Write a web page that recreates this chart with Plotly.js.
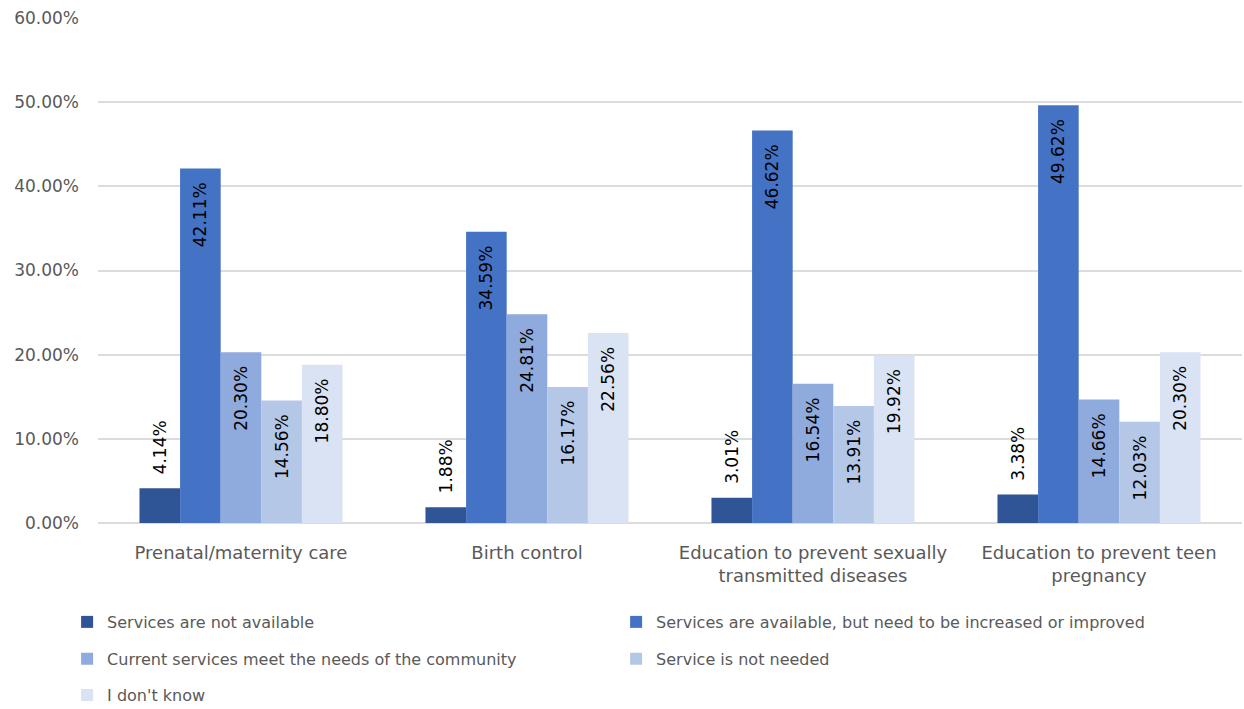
<!DOCTYPE html>
<html>
<head>
<meta charset="utf-8">
<script src="https://cdn.plot.ly/plotly-3.0.1.min.js"></script>
<style>html,body{margin:0;padding:0;background:#fff;}#chart{width:1244px;height:709px;}</style>
</head>
<body>
<div id="chart"></div>
<script>
const categories = ["Prenatal/maternity care", "Birth control", "Education to prevent sexually<br>transmitted diseases", "Education to prevent teen<br>pregnancy"];
const seriesNames = ["Services are not available", "Services are available, but need to be increased or improved", "Current services meet the needs of the community", "Service is not needed", "I don't know"];
const notAvailable = [4.14, 1.88, 3.01, 3.38];
const needIncrease = [42.11, 34.59, 46.62, 49.62];
const meetNeeds = [20.30, 24.81, 16.54, 14.66];
const notNeeded = [14.56, 16.17, 13.91, 12.03];
const dontKnow = [18.80, 22.56, 19.92, 20.30];
const yTicks = [0, 10, 20, 30, 40, 50, 60];
const yTickText = ["0.00%", "10.00%", "20.00%", "30.00%", "40.00%", "50.00%", "60.00%"];

const colors = ["#2F5597", "#4472C4", "#8FAADC", "#B4C7E7", "#DAE3F3"];
const legendIds = ["legend", "legend", "legend2", "legend2", "legend3"];
const FONT = "'DejaVu Sans', 'Open Sans', sans-serif";
const allSeries = [notAvailable, needIncrease, meetNeeds, notNeeded, dontKnow];
const NB = "\u00a0";

const traces = allSeries.map((vals, i) => ({
  type: "bar",
  name: seriesNames[i],
  x: categories,
  y: vals,
  marker: {color: colors[i]},
  texttemplate: vals.map(v => v < 8 ? NB + NB + "%{y:.2f}%" : "%{y:.2f}%" + NB + NB),
  textposition: vals.map(v => v < 8 ? "outside" : "inside"),
  textangle: -90,
  insidetextanchor: "end",
  constraintext: "none",
  textfont: {family: FONT, size: 17, color: "#000"},
  insidetextfont: {family: FONT, size: 17, color: "#000"},
  outsidetextfont: {family: FONT, size: 17, color: "#000"},
  cliponaxis: false,
  legend: legendIds[i],
  hoverinfo: "none"
}));

const legendBase = {
  orientation: "h",
  xanchor: "left",
  yanchor: "middle",
  x: -0.027,
  entrywidth: 504,
  entrywidthmode: "pixels",
  font: {family: FONT, size: 16, color: "#595959"},
  itemwidth: 30,
  bgcolor: "rgba(0,0,0,0)",
  traceorder: "normal"
};

const layout = {
  width: 1244,
  height: 709,
  margin: {l: 98, r: 2, t: 18, b: 186, autoexpand: false},
  paper_bgcolor: "#fff",
  plot_bgcolor: "#fff",
  barmode: "group",
  bargap: 0.29,
  bargroupgap: 0,
  font: {family: FONT, size: 17, color: "#595959"},
  showlegend: true,
  xaxis: {
    type: "category",
    showgrid: false,
    zeroline: false,
    showline: false,
    ticks: "",
    automargin: false,
    tickfont: {family: FONT, size: 18, color: "#595959"},
    ticklabelstandoff: 17
  },
  yaxis: {
    range: [0, 60],
    tickvals: yTicks,
    ticktext: yTickText,
    showgrid: true,
    gridcolor: "#DCDCDC",
    gridwidth: 2,
    zeroline: true,
    zerolinecolor: "#DCDCDC",
    zerolinewidth: 2,
    showline: false,
    ticks: "",
    automargin: false,
    ticklabelstandoff: 18,
    tickfont: {family: FONT, size: 17, color: "#595959"}
  },
  legend: Object.assign({}, legendBase, {y: -0.196}),
  legend2: Object.assign({}, legendBase, {y: -0.269}),
  legend3: Object.assign({}, legendBase, {y: -0.341})
};

Plotly.newPlot("chart", traces, layout, {displayModeBar: false, staticPlot: true});
</script>
</body>
</html>
